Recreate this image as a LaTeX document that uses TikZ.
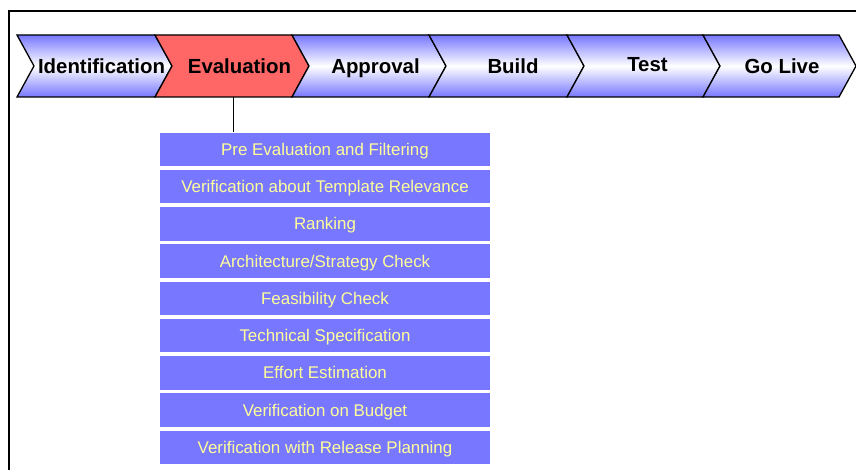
\documentclass[tikz,border=0pt]{standalone}
\usepackage{fontspec}
\setmainfont{Liberation Sans}
\definecolor{chevblue}{RGB}{119,119,255}
\definecolor{boxblue}{RGB}{119,119,255}
\definecolor{evalred}{RGB}{255,102,102}
\definecolor{boxtext}{RGB}{255,255,153}
\tikzset{
  chev/.style={draw=black, line width=1.3pt, line join=miter, top color=chevblue, bottom color=chevblue, middle color=white},
  chevred/.style={draw=black, line width=1.3pt, line join=miter, fill=evalred},
  chevlabel/.style={anchor=base, inner sep=0pt, font=\fontsize{20.4}{24}\selectfont\bfseries, text=black},
  stepbox/.style={fill=boxblue, minimum width=330pt, minimum height=33.5pt, inner sep=0pt, text height=12pt, text depth=0pt, font=\fontsize{16.9}{20}\selectfont, text=boxtext},
  frameline/.style={draw=black, line width=1.1pt},
  link/.style={draw=black, line width=0.9pt}
}
\begin{document}
\begin{tikzpicture}[x=1pt,y=-1pt]
\useasboundingbox (0,0) rectangle (856,470);
\fill[white] (0,0) rectangle (856,470);
% outer frame
\draw[frameline] (9,475) -- (9,11) -- (860,11);
% chevrons
\path[chev] (17,35) -- (155,35) -- (172,66) -- (155,97) -- (17,97) -- (34,66) -- cycle;
\path[chevred] (155,35) -- (292,35) -- (309,66) -- (292,97) -- (155,97) -- (172,66) -- cycle;
\path[chev] (292,35) -- (429,35) -- (446,66) -- (429,97) -- (292,97) -- (309,66) -- cycle;
\path[chev] (429,35) -- (567,35) -- (584,66) -- (567,97) -- (429,97) -- (446,66) -- cycle;
\path[chev] (567,35) -- (703,35) -- (720,66) -- (703,97) -- (567,97) -- (584,66) -- cycle;
\path[chev] (703,35) -- (839,35) -- (856,66) -- (839,97) -- (703,97) -- (720,66) -- cycle;
% chevron labels
\node[chevlabel] (ident) at (101.5,73.3) {Identification};
\node[chevlabel] (evalu) at (239.5,73.3) {Evaluation};
\node[chevlabel] (appr) at (375.5,73.3) {Approval};
\node[chevlabel] (build) at (513,73.3) {Build};
\node[chevlabel] (test) at (647.5,71.3) {Test};
\node[chevlabel] (golive) at (782,73.3) {Go Live};
\coordinate (evalbottom) at (233,97);
% step boxes
\node[stepbox] (s1) at (325,149.4) {Pre Evaluation and Filtering};
\node[stepbox] (s2) at (325,186.6) {Verification about Template Relevance};
\node[stepbox] (s3) at (325,223.9) {Ranking};
\node[stepbox] (s4) at (325,261.1) {Architecture/Strategy Check};
\node[stepbox] (s5) at (325,298.4) {Feasibility Check};
\node[stepbox] (s6) at (325,335.6) {Technical Specification};
\node[stepbox] (s7) at (325,372.9) {Effort Estimation};
\node[stepbox] (s8) at (325,410.1) {Verification on Budget};
\node[stepbox] (s9) at (325,447.4) {Verification with Release Planning};
% connector
\draw[link] (evalbottom) -- (evalbottom |- s1.north);
\end{tikzpicture}
\end{document}
